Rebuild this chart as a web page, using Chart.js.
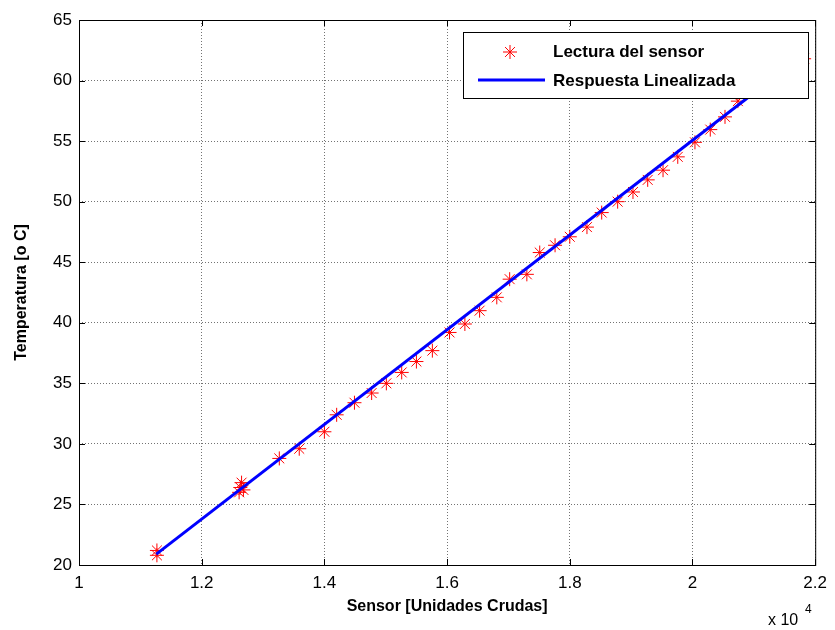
<!DOCTYPE html>
<html>
<head>
<meta charset="utf-8">
<script src="https://cdn.jsdelivr.net/npm/chart.js@4.4.0/dist/chart.umd.min.js"></script>
<style>
  body { margin: 0; background: #fff; }
  #wrap { width: 835px; height: 630px; }
</style>
</head>
<body>
<div id="wrap"><canvas id="plot" width="835" height="630"></canvas></div>
<script>
// Lectura del sensor (raw units) vs temperatura
const sensorRaw = [11270, 11270, 12610, 12630, 12650, 12680, 13265, 13590, 14000, 14200,
  14490, 14770, 15010, 15260, 15500, 15760, 16040, 16290, 16530, 16810,
  17020, 17300, 17510, 17760, 18000, 18280, 18520, 18780, 19030, 19270,
  19520, 19760, 20040, 20290, 20530, 20740, 21820];
const sensorTemp = [21.2, 20.8, 26.0, 26.4, 26.8, 26.2, 28.8, 29.6, 31.0, 32.4,
  33.4, 34.2, 35.0, 35.9, 36.8, 37.7, 39.2, 39.9, 41.0, 42.1,
  43.6, 44.0, 45.8, 46.4, 47.1, 47.9, 49.1, 50.0, 50.8, 51.8,
  52.6, 53.7, 54.9, 55.95, 57.0, 58.3, 61.8];

// respuesta linealizada
const fitRaw = [11260, 21850];
const fitTemp = [20.9, 62.3];

const xTickLabels = ['1', '1.2', '1.4', '1.6', '1.8', '2', '2.2'];
const yTickLabels = ['20', '25', '30', '35', '40', '45', '50', '55', '60', '65'];

const seriesNames = ['Lectura del sensor', 'Respuesta Linealizada'];

const FONT = '"Liberation Sans", Arial, sans-serif';

// box, inward ticks, axis titles, x10^4 and the legend (matlab style)
const matlabDecor = {
  id: 'matlabDecor',
  afterDatasetsDraw(chart) {
    const { ctx, chartArea: a, scales } = chart;
    ctx.save();
    ctx.strokeStyle = '#000';
    ctx.lineWidth = 1;
    ctx.strokeRect(a.left + 0.5, a.top + 0.5, a.right - a.left, a.bottom - a.top);

    ctx.beginPath();
    scales.x.ticks.forEach(t => {
      const px = Math.round(scales.x.getPixelForValue(t.value)) + 0.5;
      ctx.moveTo(px, a.bottom); ctx.lineTo(px, a.bottom - 6);
      ctx.moveTo(px, a.top); ctx.lineTo(px, a.top + 6);
    });
    scales.y.ticks.forEach(t => {
      const py = Math.round(scales.y.getPixelForValue(t.value)) + 0.5;
      ctx.moveTo(a.left, py); ctx.lineTo(a.left + 6, py);
      ctx.moveTo(a.right, py); ctx.lineTo(a.right - 6, py);
    });
    ctx.stroke();

    // legend box
    const lx = 463, ly = 32, lw = 345, lh = 66;
    ctx.fillStyle = '#fff';
    ctx.fillRect(lx, ly, lw, lh);
    ctx.strokeRect(lx + 0.5, ly + 0.5, lw, lh);

    const sc = chart.data.datasets[0];
    const ln = chart.data.datasets[1];
    // star marker
    ctx.strokeStyle = sc.borderColor;
    ctx.lineWidth = 1;
    const sx = 510, sy = 52, r = 7;
    ctx.beginPath();
    ctx.moveTo(sx - r, sy); ctx.lineTo(sx + r, sy);
    ctx.moveTo(sx, sy - r); ctx.lineTo(sx, sy + r);
    const d = r * 0.707;
    ctx.moveTo(sx - d, sy - d); ctx.lineTo(sx + d, sy + d);
    ctx.moveTo(sx - d, sy + d); ctx.lineTo(sx + d, sy - d);
    ctx.stroke();
    // line sample
    ctx.strokeStyle = ln.borderColor;
    ctx.lineWidth = 3;
    ctx.beginPath();
    ctx.moveTo(478, 80); ctx.lineTo(545, 80);
    ctx.stroke();

    ctx.fillStyle = '#000';
    ctx.font = 'bold 17px ' + FONT;
    ctx.textBaseline = 'middle';
    ctx.textAlign = 'left';
    ctx.fillText(sc.label, 553, 52);
    ctx.fillText(ln.label, 553, 81);

    // axis titles
    ctx.font = 'bold 16px ' + FONT;
    ctx.textAlign = 'center';
    ctx.fillText('Sensor [Unidades Crudas]', (a.left + a.right) / 2, 607);
    ctx.save();
    ctx.translate(22, (a.top + a.bottom) / 2);
    ctx.rotate(-Math.PI / 2);
    ctx.fillText('Temperatura [o C]', 0, 0);
    ctx.restore();

    // exponent
    ctx.font = '16px ' + FONT;
    ctx.textAlign = 'left';
    ctx.fillText('x 10', 768, 621);
    ctx.font = '12px ' + FONT;
    ctx.fillText('4', 805, 610);
    ctx.restore();
  }
};

const gridStyle = { color: 'rgba(0,0,0,0.55)', lineWidth: 1, drawTicks: false };

new Chart(document.getElementById('plot'), {
  type: 'scatter',
  data: {
    datasets: [
      {
        label: seriesNames[0],
        data: sensorRaw.map((x, i) => ({ x: x, y: sensorTemp[i] })),
        pointStyle: 'star',
        pointRadius: 7,
        pointHoverRadius: 7,
        borderColor: '#ff0000',
        backgroundColor: '#ff0000',
        pointBorderWidth: 1,
        showLine: false,
        order: 1
      },
      {
        label: seriesNames[1],
        data: fitRaw.map((x, i) => ({ x: x, y: fitTemp[i] })),
        showLine: true,
        borderColor: '#0000ff',
        backgroundColor: '#0000ff',
        borderWidth: 3,
        pointRadius: 0,
        order: 0
      }
    ]
  },
  options: {
    responsive: false,
    animation: false,
    layout: { padding: { top: 20, right: 18, left: 0, bottom: 0 } },
    plugins: {
      legend: { display: false },
      tooltip: { enabled: false },
      title: { display: false }
    },
    scales: {
      x: {
        type: 'linear',
        min: 10000,
        max: 22000,
        grid: gridStyle,
        border: { display: false, dash: [1, 2] },
        afterFit(scale) { scale.height = 65; },
        afterBuildTicks(scale) {
          scale.ticks = xTickLabels.map((l, i) => ({ value: 10000 + i * 2000 }));
        },
        ticks: {
          color: '#000',
          font: { family: FONT, size: 17 },
          padding: 8,
          maxRotation: 0,
          autoSkip: false,
          callback: (v, i) => xTickLabels[i]
        }
      },
      y: {
        type: 'linear',
        min: 20,
        max: 65,
        grid: gridStyle,
        border: { display: false, dash: [1, 2] },
        afterFit(scale) { scale.width = 79; },
        afterBuildTicks(scale) {
          scale.ticks = yTickLabels.map(l => ({ value: Number(l) }));
        },
        ticks: {
          color: '#000',
          font: { family: FONT, size: 17 },
          padding: 7,
          autoSkip: false,
          callback: (v, i) => yTickLabels[i]
        }
      }
    }
  },
  plugins: [matlabDecor]
});
</script>
</body>
</html>
